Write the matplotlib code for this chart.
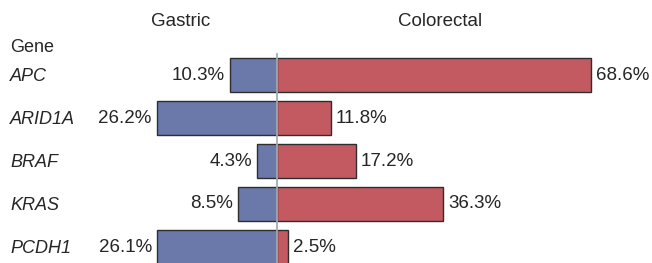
import numpy as np
import matplotlib.pyplot as plt

plt.rcParams['font.family'] = ['Liberation Sans', 'DejaVu Sans']

genes = ['APC', 'ARID1A', 'BRAF', 'KRAS', 'PCDH1']
gastric = [10.3, 26.2, 4.3, 8.5, 26.1]
colorectal = [68.6, 11.8, 17.2, 36.3, 2.5]

blue = '#6a78aa'
red = '#c45a61'
edge = '#2e2e2e'
txt = '#262626'

fig = plt.figure(figsize=(6.52, 2.63), dpi=100)
ax = fig.add_axes([0, 0, 1, 1])

# pixel -> data mapping: centre line at x=277px, 4.58 px per percent
scale = 4.58
ax.set_xlim(-277 / scale, (652 - 277) / scale)
ax.set_ylim((263 - 75) / 43, -75 / 43)
ax.axis('off')

y = np.arange(len(genes))
ax.barh(y, [-g for g in gastric], height=0.79, color=blue, edgecolor=edge, linewidth=1)
ax.barh(y, colorectal, height=0.79, color=red, edgecolor=edge, linewidth=1)

ax.plot([0, 0], [-0.48, 4.5], color='#a3aab2', lw=1.3, zorder=5)

for i, (g, c) in enumerate(zip(gastric, colorectal)):
    ax.text(-g - 1.2, i, f'{g}%', ha='right', va='center', fontsize=13.5, color=txt)
    ax.text(c + 1.1, i, f'{c}%', ha='left', va='center', fontsize=13.5, color=txt)
    ax.text(10 / 652, i + 0.04, genes[i], transform=ax.get_yaxis_transform(), ha='left', va='center',
            fontsize=13, style='italic', color=txt)

ax.text(181 / 652, 1 - 22 / 263, 'Gastric', transform=ax.transAxes, ha='center', va='center',
        fontsize=13.5, color=txt)
ax.text(440 / 652, 1 - 22 / 263, 'Colorectal', transform=ax.transAxes, ha='center', va='center',
        fontsize=13.5, color=txt)
ax.text(10 / 652, 1 - 48 / 263, 'Gene', transform=ax.transAxes, ha='left', va='center',
        fontsize=13, color=txt)

fig.savefig('out.png', dpi=100)
